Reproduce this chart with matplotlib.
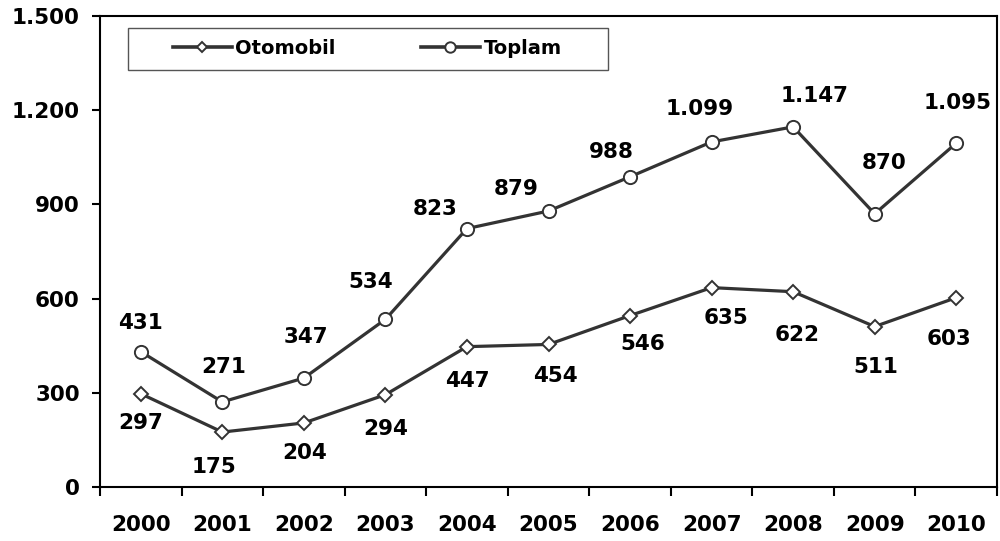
import numpy as np
import matplotlib
matplotlib.use('Agg')
import matplotlib.pyplot as plt
from matplotlib.ticker import FuncFormatter, FixedLocator
from matplotlib.patches import Rectangle

plt.rcParams['font.family'] = ['DejaVu Sans']

years = ['2000', '2001', '2002', '2003', '2004', '2005',
         '2006', '2007', '2008', '2009', '2010']
otomobil = [297, 175, 204, 294, 447, 454, 546, 635, 622, 511, 603]
toplam = [431, 271, 347, 534, 823, 879, 988, 1099, 1147, 870, 1095]

# label offsets in pixels (dx, dy) for each point
off_top = [(0, 29), (1, 35), (2, 41), (-15, 37), (-32, 20), (-32, 22),
           (-19, 25), (-12, 33), (21, 31), (9, 51), (1, 40)]
off_oto = [(0, -29), (-8, -35), (1, -30), (0, -34), (0, -34), (7, -32),
           (13, -28), (14, -30), (4, -43), (1, -40), (-7, -41)]

LC = '#333333'
FS = 15.5


def tr_fmt(v, pos=None):
    return f'{int(v):,}'.replace(',', '.')


fig = plt.figure(figsize=(10, 5.41), dpi=100)
ax = fig.add_axes([0.100, 0.0998, 0.897, 0.8706])

x = np.arange(len(years))
ax.plot(x, otomobil, color=LC, lw=2.3, marker='D', ms=7, mfc='white',
        mec=LC, mew=1.4, label='Otomobil', zorder=3)
ax.plot(x, toplam, color=LC, lw=2.3, marker='o', ms=9.5, mfc='white',
        mec=LC, mew=1.4, label='Toplam', zorder=3)

for xi, v, (dx, dy) in zip(x, toplam, off_top):
    ax.annotate(tr_fmt(v), (xi, v), xytext=(dx, dy), textcoords='offset pixels',
                ha='center', va='center', fontsize=FS, fontweight='bold')
for xi, v, (dx, dy) in zip(x, otomobil, off_oto):
    ax.annotate(tr_fmt(v), (xi, v), xytext=(dx, dy), textcoords='offset pixels',
                ha='center', va='center', fontsize=FS, fontweight='bold')

ax.set_xlim(-0.5, len(years) - 0.5)
ax.set_ylim(0, 1500)
ax.set_yticks(np.arange(0, 1501, 300))
ax.yaxis.set_major_formatter(FuncFormatter(tr_fmt))

ax.xaxis.set_major_locator(FixedLocator(np.arange(-0.5, len(years), 1.0)))
ax.xaxis.set_major_formatter(FuncFormatter(lambda v, p: ''))
ax.xaxis.set_minor_locator(FixedLocator(x))
ax.set_xticklabels(years, minor=True)

ax.tick_params(axis='x', which='major', direction='out', length=6.5, width=1.5)
ax.tick_params(axis='x', which='minor', length=0, pad=20.5, labelsize=FS)
ax.tick_params(axis='y', direction='out', length=6, width=1.5, pad=8.5, labelsize=FS)
for lab in ax.get_xticklabels(minor=True) + ax.get_yticklabels():
    lab.set_fontweight('bold')

for s in ax.spines.values():
    s.set_linewidth(1.5)
    s.set_color('black')

# legend with a wide frame
ax.add_patch(Rectangle((0.0312, 0.8854), 0.535, 0.0892, transform=ax.transAxes,
                       fill=False, edgecolor='#555555', lw=1.0, zorder=4))
leg = ax.legend(loc='center left', bbox_to_anchor=(0.081, 0.9314), ncol=2,
                frameon=False, prop={'weight': 'bold', 'size': 14},
                handlelength=3.03, handletextpad=0.18, columnspacing=4.4,
                borderaxespad=0, borderpad=0)
for h, ms in zip(leg.legend_handles, [5.2, 7.5]):
    h.set_linewidth(2.6)
    h.set_markersize(ms)

fig.savefig('out.png', dpi=100)
